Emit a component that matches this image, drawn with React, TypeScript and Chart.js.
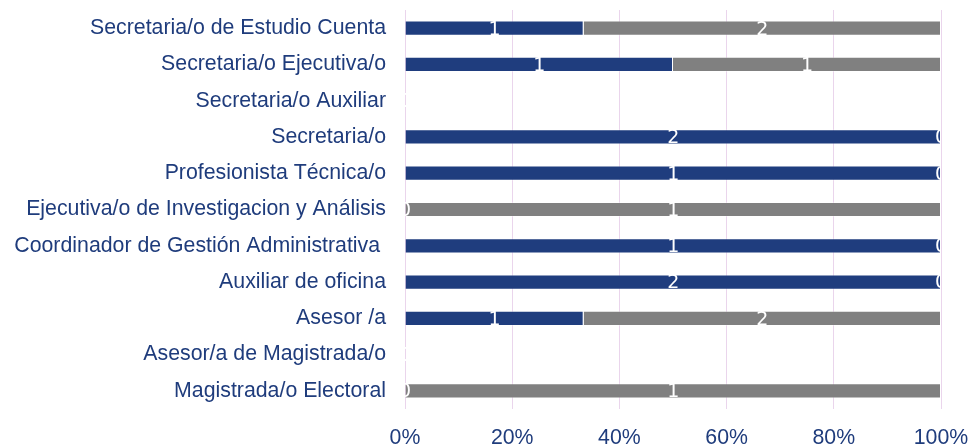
import React, { useEffect, useRef } from "react";
import { Chart, registerables } from "chart.js";

Chart.register(...registerables);

const categories = [
  "Secretaria/o de Estudio Cuenta",
  "Secretaria/o Ejecutiva/o",
  "Secretaria/o Auxiliar",
  "Secretaria/o",
  "Profesionista Técnica/o",
  "Ejecutiva/o de Investigacion y Análisis",
  "Coordinador de Gestión Administrativa ",
  "Auxiliar de oficina",
  "Asesor /a",
  "Asesor/a de Magistrada/o",
  "Magistrada/o Electoral",
];
const seriesA = [1, 1, 0, 2, 1, 0, 1, 2, 1, 0, 0];
const seriesB = [2, 1, 0, 0, 0, 1, 0, 0, 2, 0, 1];
const xTickValues = [0, 20, 40, 60, 80, 100];

const toPct = (vals: number[], other: number[]) =>
  vals.map((v, i) => {
    const t = v + other[i];
    return t ? (v / t) * 100 : 0;
  });

const TEXT = "#1F3C7C";

const labelPlugin = {
  id: "segLabels",
  afterDatasetsDraw(chart: any) {
    const { ctx, chartArea } = chart;
    ctx.save();
    ctx.beginPath();
    ctx.rect(chartArea.left, chartArea.top, chartArea.right - chartArea.left, chartArea.bottom - chartArea.top);
    ctx.clip();
    ctx.fillStyle = "#ffffff";
    ctx.font = "19px 'DejaVu Sans'";
    ctx.textAlign = "center";
    ctx.textBaseline = "middle";
    chart.data.datasets.forEach((ds: any, di: number) => {
      const meta = chart.getDatasetMeta(di);
      meta.data.forEach((bar: any, i: number) => {
        const p = bar.getProps(["x", "base", "y"], true);
        ctx.fillText(String(ds.counts[i]), (p.x + p.base) / 2, p.y + 1.5);
      });
    });
    ctx.restore();
  },
};

export default function App() {
  const ref = useRef<HTMLCanvasElement>(null);
  useEffect(() => {
    document.body.style.margin = "0";
    const chart = new Chart(ref.current!, {
      type: "bar",
      data: {
        labels: categories,
        datasets: [
          {
            label: "Serie 1",
            data: toPct(seriesA, seriesB),
            counts: seriesA,
            backgroundColor: "#1F3D7E",
            borderColor: "rgba(255,255,255,0.35)",
            borderWidth: 1,
            categoryPercentage: 1,
            barPercentage: 0.42,
          } as any,
          {
            label: "Serie 2",
            data: toPct(seriesB, seriesA),
            counts: seriesB,
            backgroundColor: "#808080",
            borderColor: "rgba(255,255,255,0.35)",
            borderWidth: 1,
            categoryPercentage: 1,
            barPercentage: 0.42,
          } as any,
        ],
      },
      options: {
        indexAxis: "y",
        responsive: false,
        animation: false,
        layout: { padding: { top: 10, right: 31, left: 0, bottom: 0 } },
        plugins: { legend: { display: false }, tooltip: { enabled: false } },
        scales: {
          x: {
            stacked: true,
            min: 0,
            max: 100,
            afterBuildTicks: (scale: any) => {
              scale.ticks = xTickValues.map((v) => ({ value: v }));
            },
            afterFit: (scale: any) => {
              scale.height = 39;
              scale.paddingLeft = 0;
              scale.paddingRight = 0;
            },
            grid: { color: "#EAD5EC", lineWidth: 1, drawTicks: false },
            border: { display: false },
            ticks: {
              padding: 16,
              color: TEXT,
              font: { family: "'Liberation Sans', Arial, sans-serif", size: 21.3 },
              callback: (v: any) => v + "%",
            },
          },
          y: {
            stacked: true,
            afterFit: (scale: any) => {
              scale.width = 405;
              scale.paddingTop = 0;
              scale.paddingBottom = 0;
            },
            grid: { display: false, drawTicks: false },
            border: { display: false },
            ticks: {
              padding: 19,
              color: TEXT,
              font: { family: "'Liberation Sans', Arial, sans-serif", size: 21.3 },
            },
          },
        },
      },
      plugins: [labelPlugin],
    } as any);
    return () => chart.destroy();
  }, []);
  return <canvas ref={ref} width={972} height={448} style={{ display: "block" }} />;
}
